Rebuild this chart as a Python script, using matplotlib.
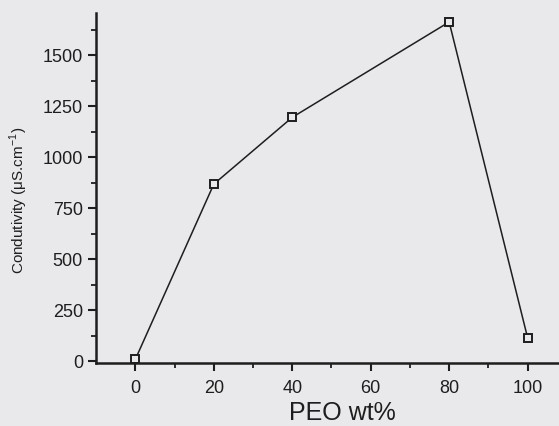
import numpy as np
import matplotlib.pyplot as plt

peo = [0, 20, 40, 80, 100]
conductivity = [10, 868, 1195, 1662, 115]

bg = "#e9e9eb"
ink = "#1e1e1e"

plt.rcParams["font.family"] = ["Liberation Sans", "DejaVu Sans"]

fig = plt.figure(figsize=(5.59, 4.26), dpi=100, facecolor=bg)
ax = fig.add_axes([0.172, 0.148, 0.828, 0.821], facecolor=bg)

ax.plot(peo, conductivity, color=ink, lw=1.1, marker="s", ms=6,
        mfc=bg, mec=ink, mew=1.4)

ax.set_xlim(-10, 108)
ax.set_ylim(-8, 1705)
ax.set_xticks([0, 20, 40, 60, 80, 100])
ax.set_xticks(np.arange(10, 110, 20), minor=True)
ax.set_yticks([0, 250, 500, 750, 1000, 1250, 1500])
ax.set_yticks(np.arange(125, 1700, 250), minor=True)

for s in ["top", "right"]:
    ax.spines[s].set_visible(False)
for s in ["left", "bottom"]:
    ax.spines[s].set_linewidth(1.8)
    ax.spines[s].set_color(ink)

ax.tick_params(which="major", direction="out", length=6, width=1.5,
               colors=ink, labelsize=13)
ax.tick_params(axis="x", which="major", pad=6)
ax.tick_params(which="minor", direction="out", length=3.5, width=1.3,
               colors=ink)

ax.set_xlabel("PEO wt%", fontsize=18, color=ink)
ax.xaxis.set_label_coords(0.533, -0.11)
ax.set_ylabel(r"Condutivity ($\mathregular{\mu}$S.cm$^{\mathregular{-1}}$)",
              fontsize=11, color=ink)
ax.yaxis.set_label_coords(-0.142, 0.466)

fig.savefig("out.png", dpi=100, facecolor=bg)
